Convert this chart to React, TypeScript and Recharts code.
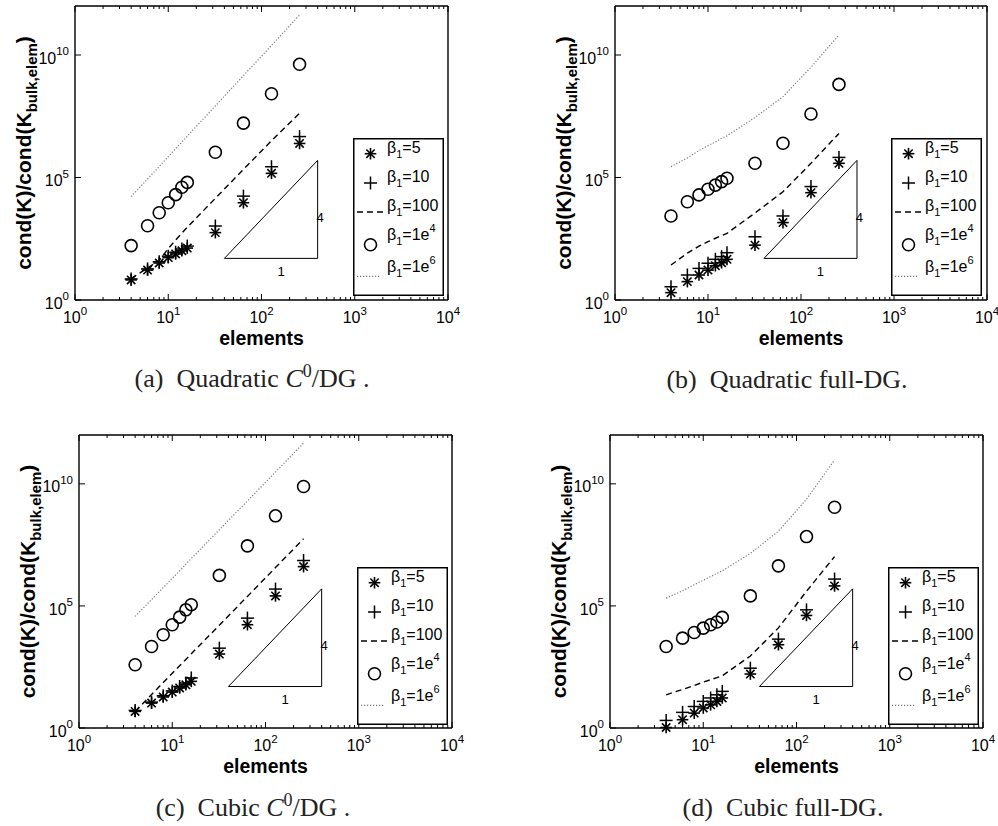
import React from 'react';
import {
  ComposedChart,
  Line,
  XAxis,
  YAxis,
  ReferenceLine,
  ReferenceDot,
  Legend,
  Label
} from 'recharts';

// number of elements on the x axis (same for every panel)
const ELEMENTS = [4, 6, 8, 10, 12, 14, 16, 32, 64, 128, 256];

// y values as powers of ten (value = 10^e)
// (a) Quadratic C0/DG
const A_BETA5 = [0.82, 1.22, 1.51, 1.73, 1.88, 2.01, 2.12, 2.75, 3.97, 5.17, 6.39];
const A_BETA10 = [0.86, 1.27, 1.56, 1.79, 1.95, 2.08, 2.2, 3.02, 4.24, 5.44, 6.67];
const A_BETA100 = [0.88, 1.3, 1.62, 2.1, 2.45, 2.73, 2.97, 4.15, 5.33, 6.5, 7.62];
const A_BETA1E4 = [2.22, 3.03, 3.56, 3.97, 4.3, 4.6, 4.8, 6.03, 7.22, 8.42, 9.62];
const A_BETA1E6 = [4.22, 4.94, 5.45, 5.85, 6.18, 6.45, 6.69, 7.92, 9.16, 10.39, 11.63];

// (b) Quadratic full-DG
const B_BETA5 = [0.3, 0.75, 1.02, 1.22, 1.4, 1.52, 1.66, 2.24, 3.16, 4.38, 5.58];
const B_BETA10 = [0.54, 1.02, 1.29, 1.5, 1.66, 1.77, 1.93, 2.58, 3.43, 4.63, 5.82];
const B_BETA100 = [1.43, 1.91, 2.2, 2.38, 2.52, 2.63, 2.72, 3.55, 4.42, 5.58, 6.8];
const B_BETA1E4 = [3.43, 4.01, 4.29, 4.52, 4.69, 4.83, 4.97, 5.58, 6.4, 7.59, 8.8];
const B_BETA1E6 = [5.44, 5.8, 6.1, 6.3, 6.45, 6.6, 6.7, 7.45, 8.3, 9.5, 10.82];

// (c) Cubic C0/DG
const C_BETA5 = [0.68, 1.02, 1.27, 1.47, 1.64, 1.77, 1.91, 3.03, 4.23, 5.41, 6.61];
const C_BETA10 = [0.72, 1.06, 1.32, 1.52, 1.7, 1.84, 2.05, 3.27, 4.5, 5.69, 6.86];
const C_BETA100 = [0.68, 1.37, 1.86, 2.24, 2.55, 2.81, 3.04, 4.21, 5.39, 6.57, 7.75];
const C_BETA1E4 = [2.59, 3.34, 3.82, 4.23, 4.54, 4.84, 5.05, 6.25, 7.46, 8.69, 9.89];
const C_BETA1E6 = [4.57, 5.26, 5.75, 6.13, 6.44, 6.71, 6.94, 8.12, 9.3, 10.48, 11.67];

// (d) Cubic full-DG
const D_BETA5 = [0.02, 0.34, 0.61, 0.82, 0.95, 1.09, 1.23, 2.21, 3.41, 4.61, 5.82];
const D_BETA10 = [0.31, 0.64, 0.88, 1.09, 1.23, 1.36, 1.5, 2.45, 3.64, 4.84, 6.1];
const D_BETA100 = [1.36, 1.58, 1.74, 1.88, 1.98, 2.06, 2.14, 2.95, 4.1, 5.6, 7.02];
const D_BETA1E4 = [3.34, 3.68, 3.91, 4.09, 4.23, 4.34, 4.53, 5.41, 6.64, 7.84, 9.04];
const D_BETA1E6 = [5.32, 5.62, 5.87, 6.05, 6.2, 6.33, 6.44, 7.15, 8.06, 9.37, 10.98];

// axes
const X_DECADES = [1, 10, 100, 1000, 10000];
const X_TICK_EXPONENTS = ['0', '1', '2', '3', '4'];
const X_MINOR = [2, 3, 4, 5, 6, 7, 8, 9];
const Y_DECADES = [1, 1e5, 1e10];
const Y_TICK_EXPONENTS = ['0', '5', '10'];
const X_DOMAIN = [1, 10000];
const Y_DOMAIN = [1, 1e12];

// slope-4 reference triangle and its labels
const TRIANGLE = { x0: 40, x1: 400, y0: 50, y1: 5e5 };
const RUN_LABEL = { x: 162, y: 15, text: '1' };
const RISE_LABEL = { x: 425, y: 2340, text: '4' };

// legend entries: beta_1 values
const LEGEND_VALUES = ['5', '10', '100', '1e', '1e'];
const LEGEND_SUPS = ['', '', '', '4', '6'];

const FONT = "'Liberation Sans', Arial, sans-serif";
const SERIF = "'Liberation Serif', 'Times New Roman', serif";
const DOTTED = '#7a7a7a';

// axis band sizes (recharts reserves these outside the plot area)
const AXIS_BOTTOM = 30;
const AXIS_TOP = 4;
const AXIS_LEFT = 40;
const AXIS_RIGHT = 8;

const X_TICKS = [
  ...X_DECADES,
  ...X_DECADES.slice(0, -1).flatMap((d) => X_MINOR.map((m) => m * d))
].sort((a, b) => a - b);

function Asterisk({ cx, cy }: any) {
  const r = 5.8;
  const d = r * 0.72;
  return (
    <g stroke="#000" strokeWidth={1.6}>
      <line x1={cx} y1={cy - r} x2={cx} y2={cy + r} />
      <line x1={cx - r} y1={cy} x2={cx + r} y2={cy} />
      <line x1={cx - d} y1={cy - d} x2={cx + d} y2={cy + d} />
      <line x1={cx - d} y1={cy + d} x2={cx + d} y2={cy - d} />
    </g>
  );
}

function Plus({ cx, cy }: any) {
  const r = 6.5;
  return (
    <g stroke="#000" strokeWidth={1.5}>
      <line x1={cx} y1={cy - r} x2={cx} y2={cy + r} />
      <line x1={cx - r} y1={cy} x2={cx + r} y2={cy} />
    </g>
  );
}

function Ring({ cx, cy }: any) {
  return <circle cx={cx} cy={cy} r={6} fill="none" stroke="#000" strokeWidth={1.6} />;
}

function XTick({ x, y, payload, side }: any) {
  const idx = X_DECADES.indexOf(payload.value);
  const len = idx >= 0 ? 6 : 3;
  const dir = side === 'bottom' ? -1 : 1;
  return (
    <g>
      <line x1={x} y1={y} x2={x} y2={y + dir * len} stroke="#000" strokeWidth={1} />
      {side === 'bottom' && idx >= 0 && (
        <text x={x} y={y + 23} textAnchor="middle" fontSize={16} fontFamily={FONT} fill="#000">
          10
          <tspan dy={-8.5} fontSize={11.5}>
            {X_TICK_EXPONENTS[idx]}
          </tspan>
        </text>
      )}
    </g>
  );
}

function YTick({ x, y, payload, side }: any) {
  const idx = Y_DECADES.indexOf(payload.value);
  const dir = side === 'left' ? 1 : -1;
  return (
    <g>
      <line x1={x} y1={y} x2={x + dir * 6} y2={y} stroke="#000" strokeWidth={1} />
      {side === 'left' && (
        <text x={x - 6} y={y + 8.6} textAnchor="end" fontSize={16} fontFamily={FONT} fill="#000">
          10
          <tspan dy={-8.5} fontSize={11.5}>
            {Y_TICK_EXPONENTS[idx]}
          </tspan>
        </text>
      )}
    </g>
  );
}

function LegendBox() {
  const markerY = [15.7, 45, 74, 106.7, 138.4];
  const textY = [15.2, 44.2, 73.2, 102.2, 134.2];
  return (
    <svg width={91} height={158} style={{ display: 'block' }}>
      <rect x={0.75} y={0.75} width={89.5} height={156.5} fill="#fff" stroke="#000" strokeWidth={1.5} />
      <Asterisk cx={17.5} cy={markerY[0]} />
      <Plus cx={17.5} cy={markerY[1]} />
      <line x1={4} y1={markerY[2]} x2={32} y2={markerY[2]} stroke="#000" strokeWidth={1.4} strokeDasharray="6 4" />
      <Ring cx={17.5} cy={markerY[3]} />
      <line x1={4} y1={markerY[4]} x2={28} y2={markerY[4]} stroke={DOTTED} strokeWidth={1.2} strokeDasharray="1.2 1.8" />
      {LEGEND_VALUES.map((v, i) => (
        <text key={i} x={34} y={textY[i]} fontSize={16} fontFamily={FONT} fill="#000">
          β
          <tspan dy={5} fontSize={11}>1</tspan>
          <tspan dy={-5}>={v}</tspan>
          {LEGEND_SUPS[i] && (
            <tspan dy={-8} fontSize={11}>
              {LEGEND_SUPS[i]}
            </tspan>
          )}
        </text>
      ))}
    </svg>
  );
}

const PANELS = [
  {
    id: 'a',
    box: { left: 0, top: 0, width: 499, height: 413 },
    plot: { left: 75, top: 6, right: 448, bottom: 300 },
    legend: { left: 353, top: 138 },
    caption: { x: 252, y: 387, title: 'Quadratic ', c0: true, tail: '/DG .' },
    series: [A_BETA5, A_BETA10, A_BETA100, A_BETA1E4, A_BETA1E6]
  },
  {
    id: 'b',
    box: { left: 499, top: 0, width: 499, height: 413 },
    plot: { left: 615, top: 6, right: 987, bottom: 300 },
    legend: { left: 891, top: 138 },
    caption: { x: 787, y: 388, title: 'Quadratic full-DG.', c0: false, tail: '' },
    series: [B_BETA5, B_BETA10, B_BETA100, B_BETA1E4, B_BETA1E6]
  },
  {
    id: 'c',
    box: { left: 0, top: 413, width: 499, height: 413 },
    plot: { left: 79, top: 435, right: 452, bottom: 728 },
    legend: { left: 357, top: 567 },
    caption: { x: 253, y: 816, title: 'Cubic ', c0: true, tail: '/DG .' },
    series: [C_BETA5, C_BETA10, C_BETA100, C_BETA1E4, C_BETA1E6]
  },
  {
    id: 'd',
    box: { left: 499, top: 413, width: 499, height: 413 },
    plot: { left: 610, top: 435, right: 983, bottom: 728 },
    legend: { left: 888, top: 567 },
    caption: { x: 783, y: 816, title: 'Cubic full-DG.', c0: false, tail: '' },
    series: [D_BETA5, D_BETA10, D_BETA100, D_BETA1E4, D_BETA1E6]
  }
];

const KEYS = ['b5', 'b10', 'b100', 'b1e4', 'b1e6'];

const axisLine = { stroke: '#000', strokeWidth: 1.4 };

function Panel({ panel }: any) {
  const { box, plot, legend, series } = panel;
  const data = ELEMENTS.map((n, i) => {
    const row: any = { elements: n };
    KEYS.forEach((k, s) => {
      row[k] = Math.pow(10, series[s][i]);
    });
    return row;
  });
  const margin = {
    left: plot.left - box.left - AXIS_LEFT,
    top: plot.top - box.top - AXIS_TOP,
    right: box.left + box.width - plot.right - AXIS_RIGHT,
    bottom: box.top + box.height - plot.bottom - AXIS_BOTTOM
  };

  return (
    <div style={{ position: 'absolute', left: box.left, top: box.top }}>
      <ComposedChart width={box.width} height={box.height} data={data} margin={margin}>
        <XAxis
          xAxisId="bottom"
          dataKey="elements"
          type="number"
          scale="log"
          domain={X_DOMAIN}
          ticks={X_TICKS}
          interval={0}
          height={AXIS_BOTTOM}
          tickSize={0}
          tickMargin={0}
          tickLine={false}
          stroke="#000"
          axisLine={axisLine}
          tick={(p: any) => <XTick {...p} side="bottom" />}
        >
          <Label
            content={({ viewBox }: any) => (
              <text
                x={viewBox.x + viewBox.width / 2}
                y={viewBox.y + 44.5}
                textAnchor="middle"
                fontSize={19.5}
                fontWeight="bold"
                fontFamily={FONT}
                fill="#000"
              >
                elements
              </text>
            )}
          />
        </XAxis>
        <XAxis
          xAxisId="top"
          orientation="top"
          dataKey="elements"
          type="number"
          scale="log"
          domain={X_DOMAIN}
          ticks={X_TICKS}
          interval={0}
          height={AXIS_TOP}
          tickSize={0}
          tickMargin={0}
          tickLine={false}
          stroke="#000"
          axisLine={axisLine}
          tick={(p: any) => <XTick {...p} side="top" />}
        />
        <YAxis
          yAxisId="left"
          type="number"
          scale="log"
          domain={Y_DOMAIN}
          ticks={Y_DECADES}
          interval={0}
          width={AXIS_LEFT}
          tickSize={0}
          tickMargin={0}
          tickLine={false}
          stroke="#000"
          axisLine={axisLine}
          tick={(p: any) => <YTick {...p} side="left" />}
        >
          <Label
            content={({ viewBox }: any) => {
              const cx = viewBox.x + viewBox.width - 44;
              const cy = viewBox.y + viewBox.height / 2;
              return (
                <text
                  x={cx}
                  y={cy}
                  transform={`rotate(-90 ${cx} ${cy})`}
                  textAnchor="middle"
                  fontSize={21}
                  fontWeight="bold"
                  fontFamily={FONT}
                  fill="#000"
                >
                  cond(K)/cond(K
                  <tspan dy={6} fontSize={15}>bulk,elem</tspan>
                  <tspan dy={-6}>)</tspan>
                </text>
              );
            }}
          />
        </YAxis>
        <YAxis
          yAxisId="right"
          orientation="right"
          type="number"
          scale="log"
          domain={Y_DOMAIN}
          ticks={Y_DECADES}
          interval={0}
          width={AXIS_RIGHT}
          tickSize={0}
          tickMargin={0}
          tickLine={false}
          stroke="#000"
          axisLine={axisLine}
          tick={(p: any) => <YTick {...p} side="right" />}
        />

        <ReferenceLine
          xAxisId="bottom"
          yAxisId="left"
          segment={[{ x: TRIANGLE.x0, y: TRIANGLE.y0 }, { x: TRIANGLE.x1, y: TRIANGLE.y0 }]}
          stroke="#000"
          strokeWidth={1}
        />
        <ReferenceLine
          xAxisId="bottom"
          yAxisId="left"
          segment={[{ x: TRIANGLE.x1, y: TRIANGLE.y0 }, { x: TRIANGLE.x1, y: TRIANGLE.y1 }]}
          stroke="#000"
          strokeWidth={1}
        />
        <ReferenceLine
          xAxisId="bottom"
          yAxisId="left"
          segment={[{ x: TRIANGLE.x0, y: TRIANGLE.y0 }, { x: TRIANGLE.x1, y: TRIANGLE.y1 }]}
          stroke="#000"
          strokeWidth={1}
        />
        {[RUN_LABEL, RISE_LABEL].map((l) => (
          <ReferenceDot
            key={l.text}
            xAxisId="bottom"
            yAxisId="left"
            x={l.x}
            y={l.y}
            r={0}
            fill="none"
            stroke="none"
            label={{ value: l.text, position: 'center', fontSize: 13, fontFamily: FONT, fill: '#000' }}
          />
        ))}

        <Line
          xAxisId="bottom"
          yAxisId="left"
          dataKey="b5"
          stroke="none"
          strokeWidth={0}
          isAnimationActive={false}
          activeDot={false}
          dot={(p: any) => <Asterisk key={`s5-${p.index}`} cx={p.cx} cy={p.cy} />}
        />
        <Line
          xAxisId="bottom"
          yAxisId="left"
          dataKey="b10"
          stroke="none"
          strokeWidth={0}
          isAnimationActive={false}
          activeDot={false}
          dot={(p: any) => <Plus key={`s10-${p.index}`} cx={p.cx} cy={p.cy} />}
        />
        <Line
          xAxisId="bottom"
          yAxisId="left"
          dataKey="b100"
          stroke="#000"
          strokeWidth={1.4}
          strokeDasharray="6 4"
          dot={false}
          activeDot={false}
          isAnimationActive={false}
        />
        <Line
          xAxisId="bottom"
          yAxisId="left"
          dataKey="b1e4"
          stroke="none"
          strokeWidth={0}
          isAnimationActive={false}
          activeDot={false}
          dot={(p: any) => <Ring key={`s1e4-${p.index}`} cx={p.cx} cy={p.cy} />}
        />
        <Line
          xAxisId="bottom"
          yAxisId="left"
          dataKey="b1e6"
          stroke={DOTTED}
          strokeWidth={1.2}
          strokeDasharray="1.2 1.8"
          dot={false}
          activeDot={false}
          isAnimationActive={false}
        />

        <Legend
          layout="vertical"
          align="center"
          verticalAlign="middle"
          wrapperStyle={{
            left: legend.left - box.left,
            top: legend.top - box.top,
            width: 91,
            height: 158
          }}
          content={() => <LegendBox />}
        />
      </ComposedChart>
    </div>
  );
}

function Caption({ panel }: any) {
  const { caption, id } = panel;
  return (
    <text x={caption.x} y={caption.y} textAnchor="middle" fontSize={26} fontFamily={SERIF} fill="#222">
      ({id})
      <tspan>{'\u2002'}{caption.title}</tspan>
      {caption.c0 && (
        <>
          <tspan fontStyle="italic">C</tspan>
          <tspan dy={-10} fontSize={18}>0</tspan>
          <tspan dy={10}>{caption.tail}</tspan>
        </>
      )}
    </text>
  );
}

export default function App() {
  return (
    <div
      style={{
        position: 'absolute',
        left: 0,
        top: 0,
        width: 998,
        height: 826,
        background: '#fff',
        overflow: 'hidden'
      }}
    >
      {PANELS.map((p) => (
        <Panel key={p.id} panel={p} />
      ))}
      <svg
        width={998}
        height={826}
        style={{ position: 'absolute', left: 0, top: 0, pointerEvents: 'none' }}
      >
        {PANELS.map((p) => (
          <Caption key={p.id} panel={p} />
        ))}
      </svg>
    </div>
  );
}
